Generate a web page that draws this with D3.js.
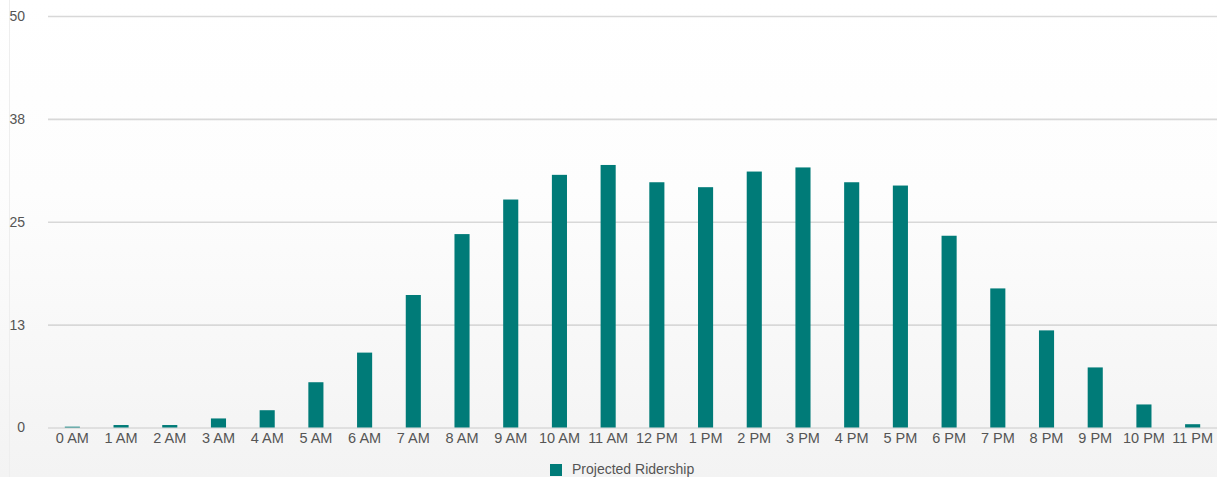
<!DOCTYPE html>
<html><head><meta charset="utf-8">
<script src="https://cdn.jsdelivr.net/npm/d3@7"></script>
<style>body{margin:0;overflow:hidden;}svg{display:block;}</style>
</head><body>
<script>
const categories = ["0 AM","1 AM","2 AM","3 AM","4 AM","5 AM","6 AM","7 AM","8 AM","9 AM","10 AM","11 AM","12 PM","1 PM","2 PM","3 PM","4 PM","5 PM","6 PM","7 PM","8 PM","9 PM","10 PM","11 PM"];
const ridership = [0.1,0.3,0.3,1.1,2.1,5.5,9.1,16.1,23.5,27.7,30.7,31.9,29.8,29.2,31.1,31.6,29.8,29.4,23.3,16.9,11.8,7.3,2.8,0.4];
const yTickValues = [0,12.5,25,37.5,50];
const yTickLabels = ["0","13","25","38","50"];
const seriesName = "Projected Ridership";

const W = 1217, H = 477;
const m = {left:48, right:0, top:16, bottom:50};
const FONT = "Liberation Sans, Arial, Helvetica, sans-serif";
const svg = d3.select("body").append("svg").attr("width",W).attr("height",H);
const defs = svg.append("defs");
const grad = defs.append("linearGradient").attr("id","bg").attr("x1",0).attr("y1",0).attr("x2",0).attr("y2",1);
grad.append("stop").attr("offset","0%").attr("stop-color","#ffffff");
grad.append("stop").attr("offset","40%").attr("stop-color","#fdfdfd");
grad.append("stop").attr("offset","100%").attr("stop-color","#f3f3f3");
svg.append("rect").attr("width",W).attr("height",H).attr("fill","url(#bg)");
svg.append("line").attr("x1",9.5).attr("x2",9.5).attr("y1",0).attr("y2",H).attr("stroke","#eeeeee");

const x = d3.scaleBand().domain(categories).range([m.left, W-m.right]).paddingInner(0.69).paddingOuter(0.345);
const y = d3.scaleLinear().domain([0,50]).range([427.5, m.top]);

const yAxis = svg.append("g").attr("transform",`translate(${m.left},0)`)
  .call(d3.axisLeft(y).tickValues(yTickValues).tickSize(-(W-m.left-m.right)).tickPadding(0)
    .tickFormat((d,i)=>yTickLabels[i]));
yAxis.select(".domain").remove();
yAxis.selectAll(".tick line").attr("stroke","#d8d8d8").attr("stroke-width",1.6);
yAxis.selectAll(".tick text").attr("x",-23).attr("fill","#555").style("font-family",FONT).style("font-size","14px");

svg.append("g").selectAll("rect").data(ridership).join("rect")
  .attr("x",(d,i)=>x(categories[i]))
  .attr("width",x.bandwidth())
  .attr("y",d=>y(d))
  .attr("height",d=>y(0)-y(d))
  .attr("fill","#007b78");

const xAxis = svg.append("g").attr("transform",`translate(0,${y(0)})`)
  .call(d3.axisBottom(x).tickSize(0).tickPadding(5));
xAxis.select(".domain").remove();
xAxis.selectAll(".tick text").attr("fill","#555").style("font-family",FONT).style("font-size","14.5px");

const lg = svg.append("g");
lg.append("rect").attr("x",550).attr("y",464).attr("width",12).attr("height",12).attr("fill","#007b78");
lg.append("text").attr("x",572).attr("y",474).text(seriesName).attr("fill","#555").style("font-family",FONT).style("font-size","14px");
</script>
</body></html>
